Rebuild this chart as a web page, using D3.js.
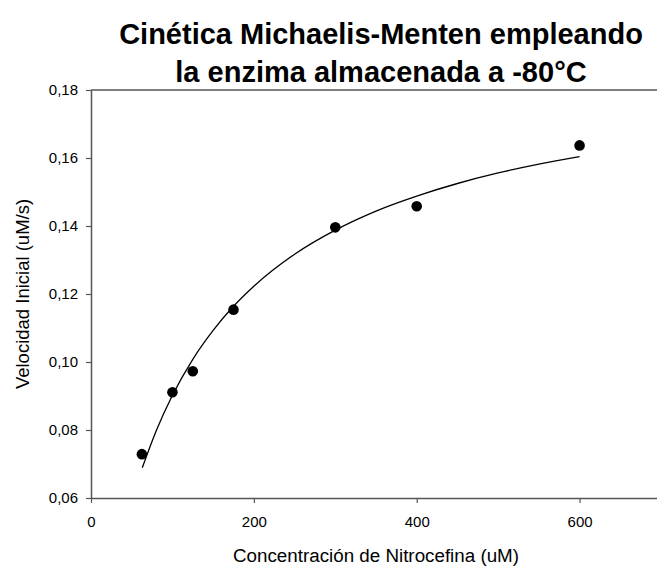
<!DOCTYPE html>
<html>
<head>
<meta charset="utf-8">
<script src="https://cdn.jsdelivr.net/npm/d3@7"></script>
<style>
  body { margin: 0; background: #fff; }
  svg { display: block; font-family: "Liberation Sans", Arial, sans-serif; }
</style>
</head>
<body>
<svg id="chart" width="657" height="566"></svg>
<script>
// measured points
const sustrato = [62.5, 100, 125, 175, 300, 400, 600];
const velocidad = [0.0729, 0.0911, 0.0973, 0.1154, 0.1396, 0.1458, 0.1637];

// fitted curve
const ajusteS = [63, 80, 100, 125, 150, 175, 200, 250, 300, 350, 400, 450, 500, 550, 600];
const ajusteV = [0.0689, 0.0797, 0.0902, 0.1008, 0.1093, 0.1164, 0.1223, 0.1317, 0.1388,
                 0.1444, 0.1488, 0.1525, 0.1556, 0.1582, 0.1604];

const xTicks = [0, 200, 400, 600];
const yTicks = [0.06, 0.08, 0.10, 0.12, 0.14, 0.16, 0.18];

const svg = d3.select("#chart");
const mLeft = 91, mRight = 661, mTop = 90, mBottom = 498;

const x = d3.scaleLinear().domain([0, 700]).range([mLeft, mRight]);
const y = d3.scaleLinear().domain([0.06, 0.18]).range([mBottom, mTop]);
const fmt = d => d3.format(".2f")(d).replace(".", ",");

// title
svg.append("text")
  .attr("x", 381).attr("y", 44)
  .attr("text-anchor", "middle")
  .style("font-size", "29px").style("font-weight", "bold")
  .text("Cinética Michaelis-Menten empleando");
svg.append("text")
  .attr("x", 381).attr("y", 82)
  .attr("text-anchor", "middle")
  .style("font-size", "29px").style("font-weight", "bold")
  .text("la enzima almacenada a -80°C");

// axes
const xAxis = svg.append("g")
  .attr("transform", "translate(0," + mBottom + ")")
  .call(d3.axisBottom(x).tickValues(xTicks).tickSize(5).tickSizeOuter(0).tickPadding(13));
const yAxis = svg.append("g")
  .attr("transform", "translate(" + mLeft + ",0)")
  .call(d3.axisLeft(y).tickValues(yTicks).tickFormat(fmt).tickSize(5).tickSizeOuter(0).tickPadding(8));

[xAxis, yAxis].forEach(g => {
  g.select(".domain").attr("stroke", "#555").attr("stroke-width", 1.5);
  g.selectAll(".tick line").attr("stroke", "#555").attr("stroke-width", 1.2);
  g.selectAll(".tick text").attr("fill", "#000").style("font-size", "15px")
    .style("font-family", "'Liberation Sans', Arial, sans-serif");
});

// top frame line
svg.append("line")
  .attr("x1", x(0)).attr("x2", x(700))
  .attr("y1", y(0.18)).attr("y2", y(0.18))
  .attr("stroke", "#555").attr("stroke-width", 1.5);

// fitted curve
const line = d3.line()
  .x((d, i) => x(d))
  .y((d, i) => y(ajusteV[i]))
  .curve(d3.curveMonotoneX);
svg.append("path")
  .attr("d", line(ajusteS))
  .attr("fill", "none")
  .attr("stroke", "#000")
  .attr("stroke-width", 1.3);

// points
svg.selectAll("circle.pt")
  .data(sustrato)
  .enter()
  .append("circle")
  .attr("class", "pt")
  .attr("cx", d => x(d))
  .attr("cy", (d, i) => y(velocidad[i]))
  .attr("r", 5.3)
  .attr("fill", "#000");

// axis labels
svg.append("text")
  .attr("x", 376).attr("y", 562)
  .attr("text-anchor", "middle")
  .style("font-size", "18.8px")
  .text("Concentración de Nitrocefina (uM)");
svg.append("text")
  .attr("transform", "translate(29,294) rotate(-90)")
  .attr("text-anchor", "middle")
  .style("font-size", "18.5px")
  .text("Velocidad Inicial (uM/s)");
</script>
</body>
</html>
